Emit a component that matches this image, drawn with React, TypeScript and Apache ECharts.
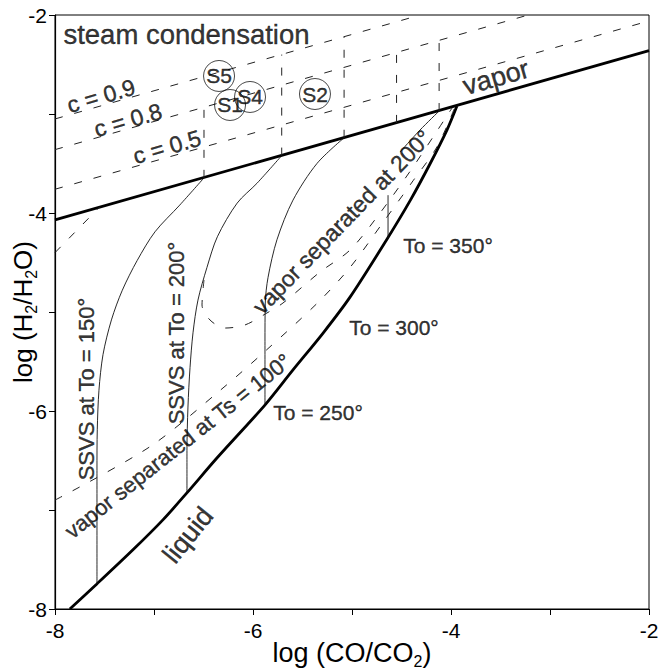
import React, { useEffect, useRef } from "react";
import * as echarts from "echarts";

// ---- data (log CO/CO2, log H2/H2O) ----
const vaporLine = [[-8, -4.07], [-2, -2.36]];
const liquidLine = [
  [-7.85, -8.0], [-7.58, -7.75], [-7.21, -7.4], [-6.91, -7.1], [-6.67, -6.83], [-6.36, -6.47],
  [-5.88, -5.94], [-5.6, -5.59], [-5.29, -5.21], [-5.02, -4.85], [-4.65, -4.27], [-4.41, -3.87],
  [-4.21, -3.5], [-4.04, -3.16], [-3.94, -2.92],
];
const c05Line = [[-8, -3.76], [-2, -2.06]];
const c08Line = [[-8, -3.36], [-3.22, -2.0]];
const c09Line = [[-8, -3.05], [-4.31, -2.0]];
const steamVerticals = [
  [[-6.495, -3.645], [-6.495, -2.93]],
  [[-5.71, -3.42], [-5.71, -2.4]],
  [[-5.08, -3.24], [-5.08, -2.22]],
  [[-4.55, -3.09], [-4.55, -2.38]],
  [[-4.12, -2.97], [-4.12, -2.26]],
];
const ssvs150 = [
  [-6.495, -3.645], [-6.74, -3.92], [-6.99, -4.19], [-7.17, -4.48], [-7.32, -4.78], [-7.43, -5.08],
  [-7.515, -5.43], [-7.556, -5.79], [-7.573, -6.19], [-7.576, -6.6], [-7.576, -7.75],
];
const ssvs200 = [
  [-5.71, -3.42], [-5.96, -3.7], [-6.16, -3.9], [-6.36, -4.24], [-6.465, -4.55], [-6.556, -4.88],
  [-6.606, -5.21], [-6.636, -5.56], [-6.657, -5.96], [-6.667, -6.4], [-6.667, -6.83],
];
const ssvs250 = [
  [-5.08, -3.24], [-5.354, -3.5], [-5.596, -3.87], [-5.758, -4.27], [-5.848, -4.65], [-5.876, -4.91],
  [-5.879, -5.3], [-5.879, -5.94],
];
const ssvs350 = [[-4.636, -3.82], [-4.636, -4.26]];
const sep200Line = [[-4.515, -3.384], [-4.313, -3.162], [-4.12, -2.97]];
const ts100Line = [
  [-8, -6.9], [-7.04, -6.36], [-6.33, -5.79], [-5.86, -5.38], [-5.35, -4.91], [-5.02, -4.55],
  [-4.69, -4.1], [-4.38, -3.67], [-4.14, -3.33], [-3.96, -2.93],
];
const ts200Line = [
  [-6.495, -4.677], [-6.515, -4.929], [-6.434, -5.081], [-6.283, -5.162], [-6.081, -5.131],
  [-5.859, -5.01], [-5.697, -4.909], [-5.323, -4.596], [-5.02, -4.374], [-4.717, -4.0],
  [-4.414, -3.58], [-4.16, -3.2], [-3.99, -2.94],
];
const leftDashLine = [[-8, -4.4], [-7.55, -3.94]];

const sampleNames = ["S5", "S1", "S4", "S2"];
const sampleX = [-6.343, -6.232, -6.03, -5.374];
const sampleY = [-2.616, -2.909, -2.828, -2.798];

const tickLabels = ["-8", "-6", "-4", "-2"];

// annotation texts: [text, x, y, rotate(deg), fontSize]
const annotations: [string, number, number, number, number][] = [
  ["steam condensation", -6.672, -2.192, 0, 27.5],
  ["vapor", -3.545, -2.63, 16, 27],
  ["liquid", -6.657, -7.253, 51, 27],
  ["c = 0.9", -7.535, -2.818, 16, 23],
  ["c = 0.8", -7.263, -3.061, 16, 23],
  ["c = 0.5", -6.869, -3.333, 16, 23],
  ["SSVS at To = 150°", -7.677, -5.778, 90, 22],
  ["SSVS at To = 200°", -6.768, -5.212, 90, 22],
  ["vapor separated at 200°", -5.101, -4.091, 46, 23],
  ["vapor separated at Ts = 100°", -6.758, -6.354, 38.5, 22],
  ["To = 350°", -4.03, -4.333, 0, 21],
  ["To = 300°", -4.576, -5.152, 0, 21],
  ["To = 250°", -5.343, -6.02, 0, 21],
];

const FONT = "Liberation Sans, Arial, sans-serif";

function lineSeries(data: number[][], width: number, type: any = "solid", color = "#000", smooth: any = false) {
  return {
    type: "line",
    data,
    showSymbol: false,
    symbol: "none",
    smooth,
    silent: true,
    lineStyle: { color, width, type },
    z: 3,
  };
}

export default function App() {
  const ref = useRef<HTMLDivElement>(null);
  useEffect(() => {
    if (!ref.current) return;
    const chart = echarts.init(ref.current, null, { renderer: "svg" });
    const dash = [8, 12];
    const subRich = {
      s: { fontSize: 16, fontFamily: FONT, color: "#000", padding: [17, 0, 0, 0] },
    };
    const series: any[] = [
      lineSeries(vaporLine, 2.8),
      lineSeries(liquidLine, 2.8, "solid", "#000", 0.3),
      lineSeries(c05Line, 1, dash, "#222"),
      lineSeries(c08Line, 1, dash, "#222"),
      lineSeries(c09Line, 1, dash, "#222"),
      ...steamVerticals.map((v) => lineSeries(v, 1, dash, "#222")),
      lineSeries(ssvs150, 0.9, "solid", "#111", 0.3),
      lineSeries(ssvs200, 0.9, "solid", "#111", 0.3),
      lineSeries(ssvs250, 0.9, "solid", "#111", 0.3),
      lineSeries(ssvs350, 0.9, "solid", "#111"),
      lineSeries(sep200Line, 0.9, "solid", "#111", 0.3),
      lineSeries(ts100Line, 1, dash, "#222", 0.3),
      lineSeries(ts200Line, 1, dash, "#222", 0.3),
      lineSeries(leftDashLine, 1, dash, "#222"),
      {
        type: "scatter",
        silent: true,
        symbol: "circle",
        symbolSize: 31,
        z: 5,
        itemStyle: { color: "rgba(255,255,255,0)", borderColor: "#000", borderWidth: 0.9 },
        label: {
          show: true,
          position: "inside",
          formatter: "{b}",
          fontSize: 21,
          fontFamily: FONT,
          color: "#000",
          textBorderColor: "#000",
          textBorderWidth: 0.4,
        },
        data: sampleNames.map((n, i) => ({ name: n, value: [sampleX[i], sampleY[i]] })),
      },
      {
        type: "scatter",
        silent: true,
        symbolSize: 1,
        z: 6,
        itemStyle: { color: "rgba(0,0,0,0)" },
        data: annotations.map(([t, x, y, r, fs]) => ({
          value: [x, y],
          label: {
            show: true,
            position: "inside",
            formatter: t,
            rotate: r,
            fontSize: fs,
            fontFamily: FONT,
            color: "#000",
            textBorderColor: "#000",
            textBorderWidth: 0.4,
            align: "center",
            verticalAlign: "middle",
          },
        })),
      },
    ];
    chart.setOption({
      animation: false,
      backgroundColor: "#fff",
      grid: {
        left: 55,
        right: 9,
        top: 15,
        bottom: 63,
        containLabel: false,
        outerBoundsMode: "none",
        show: true,
        borderColor: "#000",
        borderWidth: 1,
      },
      xAxis: {
        type: "value",
        min: -8,
        max: -2,
        interval: 1,
        axisLine: { lineStyle: { color: "#000", width: 1.2 } },
        axisTick: { length: 6, lineStyle: { color: "#000" } },
        splitLine: { show: false },
        axisLabel: {
          fontSize: 21,
          fontFamily: FONT,
          color: "#000",
          margin: 11,
          formatter: (v: number) => (tickLabels.includes(String(v)) ? String(v) : ""),
        },
        name: "log (CO/CO{s|2})",
        nameLocation: "middle",
        nameGap: 27,
        nameMoveOverlap: false,
        nameTextStyle: { fontSize: 27, fontFamily: FONT, color: "#000", rich: subRich },
      },
      yAxis: {
        type: "value",
        min: -8,
        max: -2,
        interval: 1,
        axisLine: { lineStyle: { color: "#000", width: 1.2 } },
        axisTick: { length: 6, lineStyle: { color: "#000" } },
        splitLine: { show: false },
        axisLabel: {
          fontSize: 21,
          fontFamily: FONT,
          color: "#000",
          margin: 8,
          formatter: (v: number) => (tickLabels.includes(String(v)) ? String(v) : ""),
        },
        name: "log (H{s|2}/H{s|2}O)",
        nameLocation: "middle",
        nameGap: 16,
        nameMoveOverlap: false,
        nameTextStyle: { fontSize: 26, fontFamily: FONT, color: "#000", rich: subRich },
      },
      series,
    });
    return () => chart.dispose();
  }, []);
  return (
    <div
      ref={ref}
      style={{ position: "fixed", left: 0, top: 0, width: 658, height: 672, background: "#fff" }}
    />
  );
}
